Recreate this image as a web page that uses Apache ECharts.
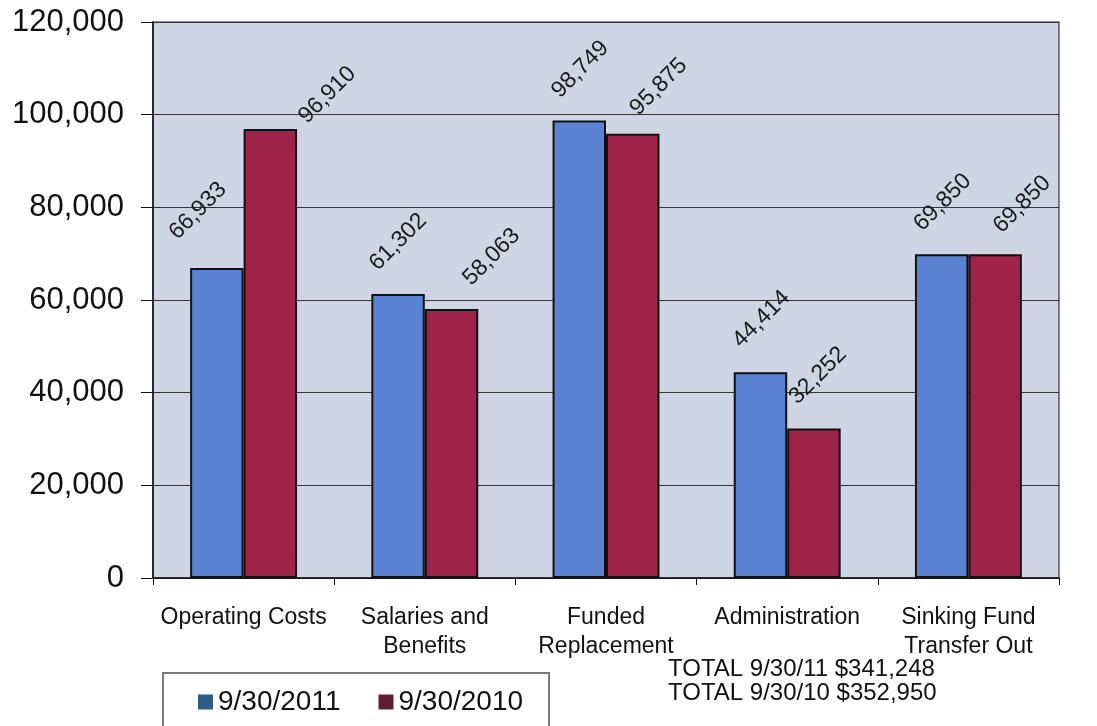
<!DOCTYPE html>
<html>
<head>
<meta charset="utf-8">
<script src="https://cdn.jsdelivr.net/npm/echarts@6/dist/echarts.min.js"></script>
<style>
  html, body { margin: 0; padding: 0; background: #ffffff; }
  #chart { width: 1097px; height: 726px; }
</style>
</head>
<body>
<div id="chart"></div>
<script>
// Expense categories and yearly amounts
const categories = ['Operating Costs', 'Salaries and\nBenefits', 'Funded\nReplacement', 'Administration', 'Sinking Fund\nTransfer Out'];
const seriesNames = ['9/30/2011', '9/30/2010'];
const values2011 = [66933, 61302, 98749, 44414, 69850];
const values2010 = [96910, 58063, 95875, 32252, 69850];
const totalLines = ['TOTAL 9/30/11 $341,248', 'TOTAL 9/30/10 $352,950'];
const yTicks = { min: 0, max: 120000, interval: 20000 };

// Screen-space nudges for the slanted value labels (dx, dy from bar top centre)
const labelShift2011 = [[-19, -57], [0, -52], [1, -51], [1, -53], [1, -52]];
const labelShift2010 = [[57, -34], [40, -52], [26, -47], [4, -53], [27, -50]];

const FONT = '"Liberation Sans", Arial, sans-serif';
const fmt = v => v.toLocaleString('en-US');

// Labels rotate about their anchor, so convert a screen offset into the rotated frame
function rotatedOffset(dx, dy) {
  const c = Math.SQRT1_2;
  return [dx * c - dy * c, dx * c + dy * c];
}

function buildData(values, shifts) {
  return values.map((v, i) => ({
    value: v,
    label: { offset: rotatedOffset(shifts[i][0], shifts[i][1]) }
  }));
}

const valueLabel = {
  show: true,
  position: 'top',
  distance: 0,
  rotate: 45,
  align: 'center',
  verticalAlign: 'middle',
  fontFamily: FONT,
  fontSize: 23,
  color: '#1a1a1a',
  formatter: p => fmt(p.value)
};

const chart = echarts.init(document.getElementById('chart'), null, { renderer: 'canvas' });

chart.setOption({
  animation: false,
  backgroundColor: '#ffffff',
  grid: {
    left: 153, right: 38, top: 22, bottom: 148,
    show: true,
    backgroundColor: '#cfd5e5',
    borderColor: '#333333',
    borderWidth: 1.2
  },
  legend: {
    left: 163, top: 673,
    padding: [15, 26, 20, 35],
    itemWidth: 15, itemHeight: 15, itemGap: 38,
    borderColor: '#7a7a7a', borderWidth: 2,
    backgroundColor: '#ffffff',
    icon: 'rect',
    textStyle: { fontFamily: FONT, fontSize: 28, color: '#111111' },
    data: [
      { name: seriesNames[0], itemStyle: { color: '#2e5c8a', borderWidth: 0 } },
      { name: seriesNames[1], itemStyle: { color: '#5e1f35', borderWidth: 0 } }
    ]
  },
  xAxis: {
    type: 'category',
    data: categories,
    axisLine: { lineStyle: { color: '#111111', width: 1.5 } },
    axisTick: { show: true, length: 7, lineStyle: { color: '#111111' } },
    axisLabel: {
      interval: 0,
      margin: 25,
      fontFamily: FONT, fontSize: 23, lineHeight: 29, color: '#111111'
    },
    splitLine: { show: false }
  },
  yAxis: {
    type: 'value',
    min: yTicks.min, max: yTicks.max, interval: yTicks.interval,
    axisLine: { show: true, lineStyle: { color: '#111111', width: 1.5 } },
    axisTick: { show: true, length: 12, lineStyle: { color: '#111111' } },
    axisLabel: {
      margin: 29,
      fontFamily: FONT, fontSize: 31, color: '#111111',
      formatter: v => fmt(v)
    },
    splitLine: { show: true, lineStyle: { color: '#333333', width: 1.2 } }
  },
  series: [
    {
      name: seriesNames[0],
      type: 'bar',
      barGap: '0%',
      barCategoryGap: '41%',
      data: buildData(values2011, labelShift2011),
      itemStyle: { color: '#5a82d2', borderColor: '#111111', borderWidth: 2 },
      label: valueLabel
    },
    {
      name: seriesNames[1],
      type: 'bar',
      barGap: '0%',
      barCategoryGap: '41%',
      data: buildData(values2010, labelShift2010),
      itemStyle: { color: '#9f2249', borderColor: '#111111', borderWidth: 2 },
      label: valueLabel
    }
  ],
  graphic: [
    {
      type: 'text',
      left: 668, top: 657,
      style: {
        text: totalLines.join('\n'),
        fontFamily: FONT, fontSize: 24, lineHeight: 24,
        fill: '#111111'
      }
    }
  ]
});
</script>
</body>
</html>
